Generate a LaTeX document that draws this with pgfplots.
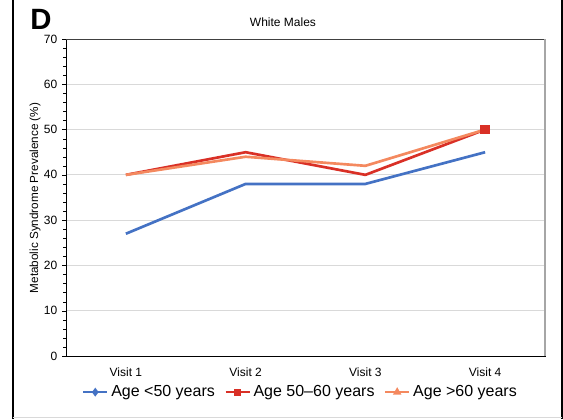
\documentclass[border=0pt]{standalone}
\usepackage{pgfplots}
\pgfplotsset{compat=1.18}
\usepackage{fontspec}
\setmainfont{Liberation Sans}
\definecolor{cblue}{RGB}{68,114,196}
\definecolor{cred}{RGB}{217,48,38}
\definecolor{corange}{RGB}{244,137,95}
\begin{document}
\begin{tikzpicture}[x=0.75pt,y=0.75pt]
\path[use as bounding box] (0,0) rectangle (563,419);
\draw[black,line width=1.5pt] (13,0) -- (13,419);
\draw[black,line width=1.5pt] (562,0) -- (562,419);
\draw[gray!30,line width=1pt] (13,1.5) -- (562,1.5);
\node[font=\bfseries\fontsize{22}{24}\selectfont] at (41,400) {D};
\node[font=\fontsize{9}{10}\selectfont] at (283,397) {White Males};
\node[rotate=90,font=\fontsize{8.8}{9}\selectfont] at (35,221) {Metabolic Syndrome Prevalence (\%)};
\begin{axis}[
  at={(49.5pt,47.25pt)}, anchor=south west,
  scale only axis, width=359.25pt, height=237.75pt,
  xmin=0.5, xmax=4.5, ymin=0, ymax=70,
  xtick={1,2,3,4}, xticklabels={Visit 1,Visit 2,Visit 3,Visit 4},
  extra x ticks={0.5,1.5,2.5,3.5,4.5}, extra x tick labels={},
  extra x tick style={major tick length=4pt, tick style={black}, grid=none},
  x tick style={draw=none},
  ytick={0,10,...,70}, minor y tick num=4,
  ymajorgrids, major grid style={gray!30, line width=0.6pt},
  tick align=outside, major tick length=3pt, minor tick length=2pt,
  y tick style={black}, minor y tick style={black},
  xtick pos=bottom, ytick pos=left,
  axis line style={black},
  tick label style={font=\fontsize{9}{10}\selectfont},
  /pgf/number format/assume math mode=true,
  xticklabel style={yshift=-2pt},
  clip=false,
  legend columns=3,
  legend style={at={(0.49,-0.114)}, anchor=center, draw=none, fill=none,
    font=\fontsize{12}{13}\selectfont, /tikz/every even column/.append style={column sep=5pt}},
  legend image code/.code={\draw[#1, mark indices={2}, mark size=1.7pt] plot coordinates {(0pt,0pt) (9pt,0pt) (18pt,0pt)};},
]
\addplot[cblue, line width=2pt, mark=diamond*, mark size=2pt, mark indices={9}] coordinates {(1,27) (2,38) (3,38) (4,45)};
\addlegendentry{Age <50 years}
\addplot[cred, line width=2pt, mark=square*, mark size=2.5pt, mark indices={4}] coordinates {(1,40) (2,45) (3,40) (4,50)};
\addlegendentry{Age 50--60 years}
\addplot[corange, line width=2pt, mark=triangle*, mark size=2.5pt, mark indices={9}] coordinates {(1,40) (2,44) (3,42) (4,50)};
\addlegendentry{Age >60 years}
\draw[gray!50!black, line width=0.6pt] (rel axis cs:0,1) -- (rel axis cs:1,1);
\draw[gray!70, line width=1.2pt] (rel axis cs:1,0) -- (rel axis cs:1,1);
\end{axis}
\end{tikzpicture}
\end{document}
